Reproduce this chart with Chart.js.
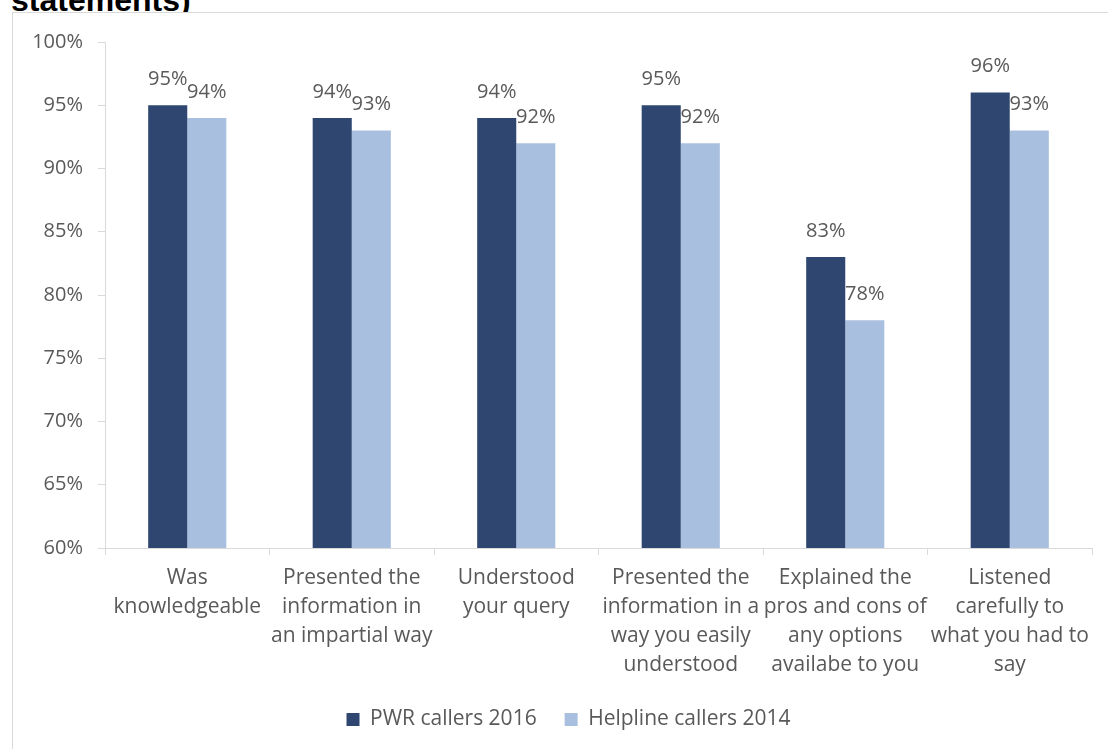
<!DOCTYPE html>
<html>
<head>
<meta charset="utf-8">
<script src="https://cdn.jsdelivr.net/npm/chart.js@4"></script>
<style>
  body { margin: 0; background: #fff; overflow: hidden; }
  #title {
    position: absolute; left: 11px; top: -16px;
    font: bold 32px "Liberation Sans", Arial, sans-serif; line-height: 32px;
    color: #000; white-space: nowrap;
  }
  #frame {
    position: absolute; left: 12px; top: 12px; width: 1096px; height: 737px;
    border-left: 1px solid #D9D9D9; border-top: 1px solid #D9D9D9;
    box-sizing: border-box; background: #fff;
  }
  #wrap { position: absolute; left: 0; top: 0; width: 1095px; height: 736px; }
</style>
</head>
<body>
<div id="title">statements)</div>
<div id="frame"><div id="wrap"><canvas id="chart"></canvas></div></div>
<script>
const categories = [
  ['Was', 'knowledgeable'],
  ['Presented the', 'information in', 'an impartial way'],
  ['Understood', 'your query'],
  ['Presented the', 'information in a', 'way you easily', 'understood'],
  ['Explained the', 'pros and cons of', 'any options', 'availabe to you'],
  ['Listened', 'carefully to', 'what you had to', 'say']
];
const pwrCallers2016 = [95, 94, 94, 95, 83, 96];
const helplineCallers2014 = [94, 93, 92, 92, 78, 93];

const textGrey = '#595959';
const lineGrey = '#D9D9D9';

// value labels above each bar
const barLabels = {
  id: 'barLabels',
  afterDatasetsDraw(chart) {
    const ctx = chart.ctx;
    ctx.save();
    ctx.font = '20px "Open Sans"';
    ctx.fillStyle = textGrey;
    ctx.textAlign = 'center';
    ctx.textBaseline = 'middle';
    chart.data.datasets.forEach((ds, i) => {
      chart.getDatasetMeta(i).data.forEach((bar, j) => {
        ctx.fillText(ds.data[j] + '%', bar.x, bar.y - 26);
      });
    });
    ctx.restore();
  }
};

// nudge the legend a bit right, like the original
const legendShift = {
  id: 'legendShift',
  afterLayout(chart) {
    chart.legend.left += 16;
    chart.legend.right += 16;
  }
};

new Chart(document.getElementById('chart'), {
  type: 'bar',
  data: {
    labels: categories,
    datasets: [{
      label: 'PWR callers 2016',
      data: pwrCallers2016,
      backgroundColor: '#2E4670',
      categoryPercentage: 0.475,
      barPercentage: 1.0
    }, {
      label: 'Helpline callers 2014',
      data: helplineCallers2014,
      backgroundColor: '#A9BFDF',
      categoryPercentage: 0.475,
      barPercentage: 1.0
    }]
  },
  options: {
    responsive: true,
    maintainAspectRatio: false,
    animation: false,
    layout: { padding: { top: 29, right: 16, bottom: 9, left: 0 } },
    scales: {
      y: {
        min: 60,
        max: 100,
        ticks: {
          stepSize: 5,
          padding: 15,
          color: textGrey,
          font: { family: 'Open Sans', size: 20 },
          callback: v => v + '%'
        },
        grid: { drawOnChartArea: false, tickLength: 7, color: lineGrey },
        border: { color: lineGrey },
        afterFit: s => { s.width = 92; }
      },
      x: {
        ticks: {
          padding: 9,
          maxRotation: 0,
          autoSkip: false,
          color: textGrey,
          font: { family: 'Open Sans', size: 21, lineHeight: 1.38 }
        },
        grid: { offset: true, drawOnChartArea: false, tickLength: 7, color: lineGrey },
        border: { color: lineGrey },
        afterFit: s => { s.height = 133; }
      }
    },
    plugins: {
      legend: {
        position: 'bottom',
        labels: {
          boxWidth: 13,
          boxHeight: 13,
          padding: 28,
          color: textGrey,
          font: { family: 'Open Sans', size: 21 }
        }
      },
      tooltip: { enabled: false }
    }
  },
  plugins: [barLabels, legendShift]
});
</script>
</body>
</html>
